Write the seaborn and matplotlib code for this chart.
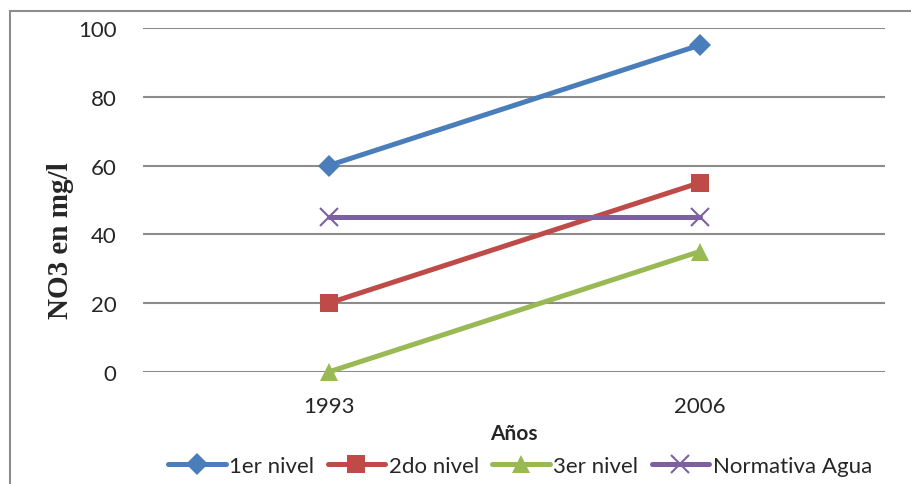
import numpy as np
import pandas as pd
import matplotlib
matplotlib.use("Agg")
import matplotlib.pyplot as plt
import seaborn as sns
from matplotlib.patches import Rectangle
from matplotlib.lines import Line2D

# ------- DATA ---------
years = ["1993", "2006"]
nivel_1 = [60, 95]
nivel_2 = [20, 55]
nivel_3 = [0, 35]
normativa = [45, 45]
series_names = ["1er nivel", "2do nivel", "3er nivel", "Normativa Agua"]

colors = ["#4A7EBB", "#BE4B48", "#98B954", "#7D60A0"]
markers = ["D", "s", "^", "x"]
msizes = [11, 13, 13, 13]
LW = 3.6

sns.set_style("white")
plt.rcParams["font.family"] = ["Lato", "DejaVu Sans"]

fig = plt.figure(figsize=(9.11, 4.85), dpi=100)
ax = fig.add_axes([143 / 911, 1 - 373 / 485, 742 / 911, 344 / 485])

# one lineplot per series (filled and line-art markers can't mix in one call)
for name, vals, c, m, ms in zip(series_names, [nivel_1, nivel_2, nivel_3, normativa],
                                colors, markers, msizes):
    mew = 1.5 if m == "x" else 0
    sns.lineplot(x=years, y=vals, color=c, marker=m, markersize=ms,
                 markeredgewidth=mew, markeredgecolor=c, linewidth=LW,
                 ax=ax, clip_on=False)

ax.set_xlim(-0.5, 1.5)
ax.set_ylim(0, 100)
ax.set_yticks(np.arange(0, 101, 20))
ax.yaxis.grid(True, color="#8c8c8c", linewidth=1.5)
ax.set_axisbelow(True)
for sp in ax.spines.values():
    sp.set_visible(False)
ax.tick_params(axis="both", length=0, labelsize=16)
ax.tick_params(axis="y", pad=19)
ax.tick_params(axis="x", pad=17)

ax.set_xlabel("Años", fontsize=15, fontweight="bold", labelpad=5)
ax.set_ylabel("NO3 en mg/l", fontsize=21, fontweight="bold",
              family=["Liberation Serif", "DejaVu Serif"], va="center")
ax.yaxis.set_label_coords((61 - 143) / 742, (373 - 241) / 344)

# legend
handles = []
for c, m, ms in zip(colors, markers, msizes):
    mew = 1.5 if m == "x" else 0
    handles.append(Line2D([], [], color=c, marker=m, linewidth=LW, markersize=ms,
                          markeredgewidth=mew, markeredgecolor=c))
fig.legend(handles, series_names, loc="center", bbox_to_anchor=(520 / 911, 1 - 467 / 485),
           ncol=4, frameon=False, fontsize=16, handlelength=2.6, handletextpad=0.15,
           columnspacing=0.6)

# outer chart border
fig.patches.append(Rectangle((10 / 911, -0.1), 1.2, 1 - 12 / 485 + 0.1,
                             transform=fig.transFigure, fill=False,
                             edgecolor="#8c8c8c", linewidth=1.5))

fig.savefig("out.png", dpi=100)
